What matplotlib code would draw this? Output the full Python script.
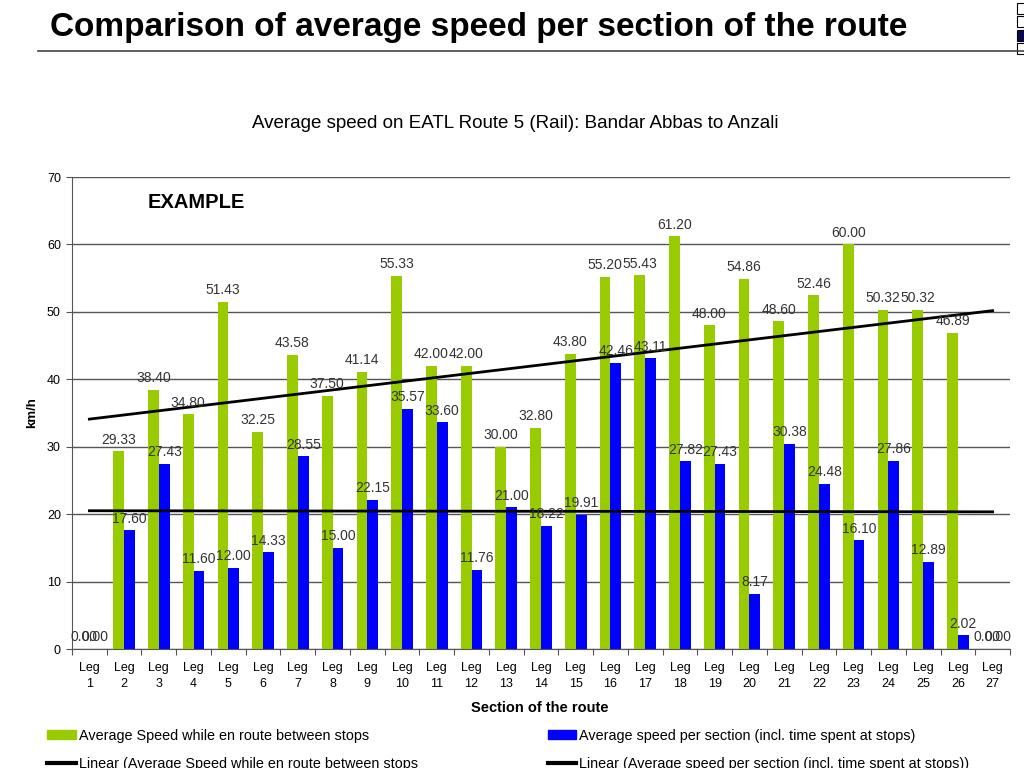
import numpy as np
import matplotlib.pyplot as plt
from matplotlib.patches import Patch, Rectangle
from matplotlib.lines import Line2D

plt.rcParams['font.family'] = ['Liberation Sans', 'DejaVu Sans']

legs = [f'Leg\n{i}' for i in range(1, 28)]
en_route = [0.00, 29.33, 38.40, 34.80, 51.43, 32.25, 43.58, 37.50, 41.14, 55.33,
            42.00, 42.00, 30.00, 32.80, 43.80, 55.20, 55.43, 61.20, 48.00, 54.86,
            48.60, 52.46, 60.00, 50.32, 50.32, 46.89, 0.00]
per_section = [0.00, 17.60, 27.43, 11.60, 12.00, 14.33, 28.55, 15.00, 22.15, 35.57,
               33.60, 11.76, 21.00, 18.22, 19.91, 42.46, 43.11, 27.82, 27.43, 8.17,
               30.38, 24.48, 16.10, 27.86, 12.89, 2.02, 0.00]

green = '#99cc00'
blue = '#0000ff'

W, H = 1024, 768
fig = plt.figure(figsize=(10.24, 7.68), dpi=100)
ax = fig.add_axes([72 / W, 1 - 649 / H, (1010 - 72) / W, (649 - 177) / H])

x = np.arange(1, len(legs) + 1)
w = 0.31
ax.bar(x - w / 2, en_route, w, color=green, zorder=2)
ax.bar(x + w / 2, per_section, w, color=blue, zorder=2)

for xi, v in zip(x, en_route):
    ax.text(xi - w / 2, v + 0.7, f'{v:.2f}', ha='center', va='bottom',
            fontsize=10, color='#333333', zorder=4)
for xi, v in zip(x, per_section):
    ax.text(xi + w / 2, v + 0.7, f'{v:.2f}', ha='center', va='bottom',
            fontsize=10, color='#333333', zorder=4)

# linear trend lines
p1 = np.polyfit(x, en_route, 1)
p2 = np.polyfit(x, per_section, 1)
ax.plot(x, np.polyval(p1, x), color='black', lw=2, zorder=3)
ax.plot(x, np.polyval(p2, x), color='black', lw=2, zorder=3)

ax.set_xlim(0.5, len(legs) + 0.5)
ax.set_ylim(0, 70)
ax.set_yticks(range(0, 71, 10))
ax.grid(axis='y', color='#555555', lw=1, zorder=0)
ax.set_axisbelow(True)
ax.set_xticks(np.arange(0.5, len(legs) + 1, 1))
ax.set_xticklabels([])
ax.set_xticks(x, minor=True)
ax.set_xticklabels(legs, minor=True, fontsize=9, linespacing=1.5)
ax.tick_params(axis='x', which='minor', length=0, pad=9)
ax.tick_params(axis='x', which='major', length=4, color='#555555')
ax.tick_params(axis='y', length=4, color='#555555', labelsize=9, pad=4)
for s in ['top', 'right']:
    ax.spines[s].set_visible(False)
for s in ['left', 'bottom']:
    ax.spines[s].set_color('#555555')

fig.text(50 / W, 1 - 36 / H, 'Comparison of average speed per section of the route',
         fontsize=24, fontweight='bold', va='baseline')
fig.add_artist(Line2D([38 / W, 1], [1 - 51 / H, 1 - 51 / H], color='#444444', lw=1.2))
fig.text(515 / W, 1 - 124 / H, 'Average speed on EATL Route 5 (Rail): Bandar Abbas to Anzali',
         fontsize=13.5, ha='center', va='center')
fig.text(148 / W, 1 - 203 / H, 'EXAMPLE', fontsize=14.5, fontweight='bold', va='center')
fig.text(32 / W, 1 - 413 / H, 'km/h', rotation=90, fontsize=9.5, fontweight='bold',
         ha='center', va='center')
fig.text(540 / W, 1 - 708 / H, 'Section of the route', fontsize=10.5, fontweight='bold',
         ha='center', va='center')

# small icons in the top right corner
for y0, fc in [(3, 'white'), (16, 'white'), (30, '#0a0a50'), (43, 'white')]:
    fig.add_artist(Rectangle((1017 / W, 1 - (y0 + 11) / H), 10 / W, 11 / H,
                             facecolor=fc, edgecolor='black', lw=0.8))

handles = [Patch(color=green), Line2D([], [], color='black', lw=3),
           Patch(color=blue), Line2D([], [], color='black', lw=3)]
labels = ['Average Speed while en route between stops',
          'Linear (Average Speed while en route between stops',
          'Average speed per section (incl. time spent at stops)',
          'Linear (Average speed per section (incl. time spent at stops))']
fig.legend(handles, labels, ncol=2, loc='upper left',
           bbox_to_anchor=(41 / W, 1 - 723 / H), frameon=False, fontsize=10.4,
           handlelength=2.0, handleheight=0.63, handletextpad=0.2,
           columnspacing=9.0, labelspacing=1.0, borderaxespad=0)

fig.savefig('out.png', dpi=100)
